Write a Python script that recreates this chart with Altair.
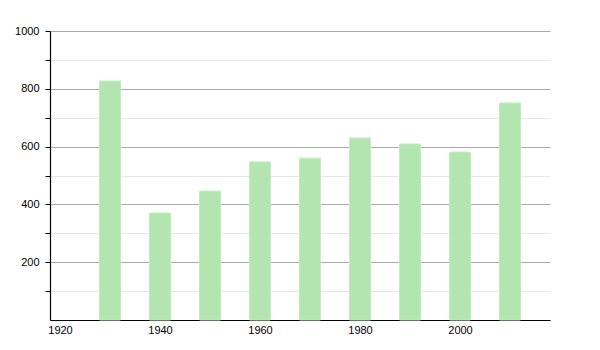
import altair as alt
import pandas as pd

years = [1930, 1940, 1950, 1960, 1970, 1980, 1990, 2000, 2010]
population = [827, 370, 446, 547, 560, 630, 609, 581, 751]

df = pd.DataFrame({"year": years, "population": population})

bars = alt.Chart(df).mark_bar(size=21, color="#b3e5b0", stroke="#c4ebc1", strokeWidth=1).encode(
    x=alt.X("year:Q", scale=alt.Scale(domain=[1918, 2018], nice=False, zero=False, padding=0),
            axis=alt.Axis(values=[1920, 1940, 1960, 1980, 2000], format="d", title=None,
                          grid=False, ticks=False, domainColor="#000", domainWidth=1.2,
                          labelColor="#000", labelFont="Liberation Sans", labelFontSize=11,
                          labelPadding=4, labelFlush=False)),
    y=alt.Y("population:Q", scale=alt.Scale(domain=[0, 1000], nice=False),
            axis=alt.Axis(values=[100, 200, 300, 400, 500, 600, 700, 800, 900, 1000],
                          format="d",
                          labelExpr="datum.value % 200 == 0 ? datum.label : ''",
                          title=None, grid=True,
                          gridColor={"condition": {"test": "datum.value % 200 == 0", "value": "#aaaaaa"}, "value": "#e8e8e8"},
                          tickColor="#000", tickSize=5, domainColor="#000", domainWidth=1.2,
                          labelColor="#000", labelFont="Liberation Sans", labelFontSize=11,
                          labelPadding=6)),
)

chart = bars.properties(
    width=500, height=289,
    background="#ffffff",
    autosize=alt.AutoSizeParams(type="none"),
    padding={"left": 50, "top": 31, "right": 50, "bottom": 30},
).configure_view(stroke=None)

chart.save("out.html", embed_options={"renderer": "svg", "actions": False})
